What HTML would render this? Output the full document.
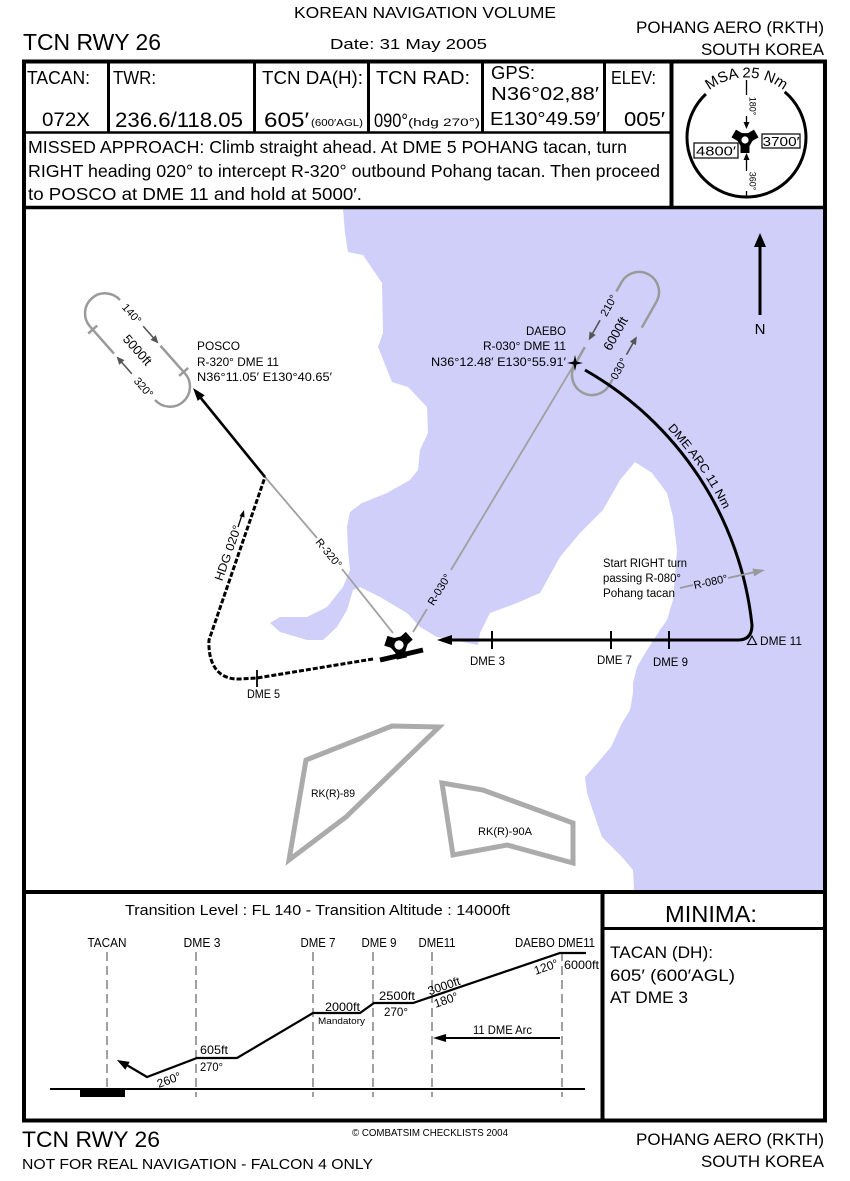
<!DOCTYPE html>
<html><head><meta charset="utf-8"><style>
html,body{margin:0;padding:0;background:#fff;}
svg{display:block;}
text{font-family:"Liberation Sans",sans-serif;fill:#000;}
</style></head><body>
<svg width="850" height="1181" viewBox="0 0 850 1181" xmlns="http://www.w3.org/2000/svg">
<defs>
<clipPath id="mapclip"><rect x="25" y="209" width="799" height="682"/></clipPath>
<path id="msaarc" d="M690.1,117 A60,60 0 0 1 802.9,117" fill="none"/>
<path id="dmearc" d="M589.5,366.4 A339,339 0 0 1 757.7,630.5" fill="none"/>
</defs>

<!-- Header titles -->
<text x="425" y="18" font-size="16" text-anchor="middle" textLength="262" lengthAdjust="spacingAndGlyphs">KOREAN NAVIGATION VOLUME</text>
<text x="23" y="50" font-size="23" textLength="138" lengthAdjust="spacingAndGlyphs">TCN RWY 26</text>
<text x="330" y="49" font-size="15" textLength="157" lengthAdjust="spacingAndGlyphs">Date: 31 May 2005</text>
<text x="824" y="33" font-size="17" text-anchor="end" textLength="188" lengthAdjust="spacingAndGlyphs">POHANG AERO (RKTH)</text>
<text x="824" y="55" font-size="17" text-anchor="end" textLength="123" lengthAdjust="spacingAndGlyphs">SOUTH KOREA</text>

<!-- Header cells -->
<text x="27" y="84" font-size="18" textLength="63" lengthAdjust="spacingAndGlyphs">TACAN:</text>
<text x="42" y="126" font-size="19" textLength="48" lengthAdjust="spacingAndGlyphs">072X</text>
<text x="113" y="84" font-size="18" textLength="43" lengthAdjust="spacingAndGlyphs">TWR:</text>
<text x="115" y="127" font-size="21" textLength="128" lengthAdjust="spacingAndGlyphs">236.6/118.05</text>
<text x="262" y="84" font-size="18" textLength="101" lengthAdjust="spacingAndGlyphs">TCN DA(H):</text>
<text x="264" y="127" font-size="21" textLength="45" lengthAdjust="spacingAndGlyphs">605′</text>
<text x="311" y="126" font-size="10" textLength="52" lengthAdjust="spacingAndGlyphs">(600′AGL)</text>
<text x="376" y="84" font-size="18" textLength="94" lengthAdjust="spacingAndGlyphs">TCN RAD:</text>
<text x="374" y="127" font-size="19" textLength="34" lengthAdjust="spacingAndGlyphs">090°</text>
<text x="408" y="126" font-size="11" textLength="72" lengthAdjust="spacingAndGlyphs">(hdg 270°)</text>
<text x="491" y="79" font-size="18" textLength="44" lengthAdjust="spacingAndGlyphs">GPS:</text>
<text x="491" y="100" font-size="18" textLength="108" lengthAdjust="spacingAndGlyphs">N36°02,88′</text>
<text x="490" y="125" font-size="18" textLength="110" lengthAdjust="spacingAndGlyphs">E130°49.59′</text>
<text x="611" y="84" font-size="18" textLength="45" lengthAdjust="spacingAndGlyphs">ELEV:</text>
<text x="624" y="126" font-size="20" textLength="41" lengthAdjust="spacingAndGlyphs">005′</text>

<!-- Missed approach -->
<text x="28" y="153" font-size="17.5" textLength="599" lengthAdjust="spacingAndGlyphs">MISSED APPROACH: Climb straight ahead. At DME 5 POHANG tacan, turn</text>
<text x="28" y="177" font-size="17.5" textLength="632" lengthAdjust="spacingAndGlyphs">RIGHT heading 020° to intercept R-320° outbound Pohang tacan. Then proceed</text>
<text x="28" y="200" font-size="17.5" textLength="334" lengthAdjust="spacingAndGlyphs">to POSCO at DME 11 and hold at 5000′.</text>

<!-- MSA -->
<path d="M784.7,91.9 A59.5,59.5 0 1 1 705.9,94" fill="none" stroke="#000" stroke-width="3"/>
<text font-size="15"><textPath href="#msaarc" startOffset="50%" text-anchor="middle">MSA 25 Nm</textPath></text>
<line x1="746.5" y1="80" x2="746.5" y2="95" stroke="#000" stroke-width="1.3"/>
<text transform="translate(749.5,106) rotate(90)" font-size="9" text-anchor="middle" fill="#555">180°</text>
<line x1="746.5" y1="116" x2="746.5" y2="124" stroke="#000" stroke-width="1.3"/>
<polygon points="746.5,129 743.5,122 749.5,122" fill="#000"/>
<line x1="746.5" y1="158" x2="746.5" y2="171" stroke="#000" stroke-width="1.3"/>
<polygon points="746.5,153 743.5,160 749.5,160" fill="#000"/>
<text transform="translate(749.5,181) rotate(90)" font-size="9" text-anchor="middle" fill="#555">360°</text>
<line x1="746.5" y1="191" x2="746.5" y2="197" stroke="#000" stroke-width="1.3"/>
<g transform="translate(745,140)">
<polygon points="8,0 4,6.9 -4,6.9 -8,0 -4,-6.9 4,-6.9" fill="#000"/>
<rect x="-4.5" y="5" width="9" height="8" fill="#000"/>
<rect x="-4.5" y="5" width="9" height="8" fill="#000" transform="rotate(120)"/>
<rect x="-4.5" y="5" width="9" height="8" fill="#000" transform="rotate(240)"/>
<circle r="3.6" fill="#fff"/>
</g>
<rect x="694" y="143" width="44" height="15" fill="#fff" stroke="#000" stroke-width="1.2"/>
<text x="716" y="155.5" font-size="13" text-anchor="middle" textLength="40" lengthAdjust="spacingAndGlyphs">4800′</text>
<rect x="762" y="134" width="38" height="14" fill="#fff" stroke="#000" stroke-width="1.2"/>
<text x="781" y="146" font-size="13" text-anchor="middle" textLength="37" lengthAdjust="spacingAndGlyphs">3700′</text>

<!-- MAP -->
<g clip-path="url(#mapclip)">
<polygon fill="#cfcff9" points="343,209 826,209 826,893 634,893 634,890 633,870 622,857 602,837 596,820 587,793 585,777 600,760 611,747 622,723 630,710 633,693 633,683 637,667 647,650 660,630 667,620 673,600 677,550 673,517 667,493 652,473 635,462 620,480 603,510 580,533 560,557 540,593 517,603 490,613 480,633 478,645 453,640 437,637 420,627 407,613 380,597 360,587 353,590 347,610 337,627 323,640 307,640 280,632 270,623 280,617 307,617 327,607 343,587 350,570 348,550 347,527 350,512 362,503 387,493 410,480 418,470 420,450 428,433 427,407 408,387 392,382 378,347 383,333 382,283 363,255 348,252 345,233"/>
</g>

<!-- Restricted areas -->
<polygon points="289,860 306,760 392,726 439,727 346,817" fill="none" stroke="#ababab" stroke-width="5" stroke-linejoin="miter"/>
<text x="311" y="797" font-size="11" fill="#777" textLength="44" lengthAdjust="spacingAndGlyphs">RK(R)-89</text>
<polygon points="442,783 483,790 573,823 573,863 507,845 453,855" fill="none" stroke="#ababab" stroke-width="5"/>
<text x="478" y="835" font-size="11" fill="#777" textLength="54" lengthAdjust="spacingAndGlyphs">RK(R)-90A</text>

<!-- R-320 gray radial -->
<line x1="393" y1="633" x2="342" y2="569" stroke="#a0a0a0" stroke-width="1.8"/>
<line x1="317" y1="538" x2="265" y2="477" stroke="#a0a0a0" stroke-width="1.8"/>
<text transform="translate(329,553) rotate(50.6)" font-size="11" fill="#aaa" text-anchor="middle" dy="4">R-320°</text>

<!-- R-030 gray radial -->
<line x1="413" y1="632" x2="427" y2="609" stroke="#a0a0a0" stroke-width="1.8"/>
<line x1="451" y1="570" x2="575" y2="363" stroke="#a0a0a0" stroke-width="1.8"/>
<text transform="translate(439,589.5) rotate(-58.5)" font-size="11" fill="#aaa" text-anchor="middle" dy="4">R-030°</text>

<!-- Missed approach path -->
<path d="M373,659 L257,678 L240,679 C215,680 208,660 209,640 L265,477" fill="none" stroke="#000" stroke-width="3" stroke-dasharray="5 2"/>
<line x1="257" y1="670" x2="257" y2="687" stroke="#000" stroke-width="1.8"/>
<text x="247" y="698" font-size="12" textLength="33" lengthAdjust="spacingAndGlyphs">DME 5</text>
<text transform="translate(228,553) rotate(-70.5)" font-size="12" text-anchor="middle" dy="4" textLength="58" lengthAdjust="spacingAndGlyphs">HDG 020°</text>
<line x1="238" y1="527" x2="242" y2="515" stroke="#000" stroke-width="1.3"/>
<polygon points="244,510 239.5,516 244.5,517.5" fill="#000"/>

<!-- Line to POSCO -->
<line x1="265" y1="477" x2="200" y2="397" stroke="#000" stroke-width="2.6"/>
<polygon points="193,388 204.7,395.3 197.7,400.9" fill="#000"/>

<!-- POSCO hold -->
<g transform="translate(137.5,350) rotate(-41.5)">
<g fill="none" stroke="#9a9a9a" stroke-width="2.5">
<path d="M-20,-49 A20,20 0 0 1 20,-49"/>
<path d="M20,49 A20,20 0 0 1 -20,49"/>
<line x1="20" y1="12" x2="20" y2="49"/>
<line x1="-20" y1="-49" x2="-20" y2="-13"/>
<line x1="-26" y1="-45" x2="-14" y2="-45"/>
<line x1="14" y1="47" x2="26" y2="47"/>
</g>
<line x1="20" y1="-14" x2="20" y2="3" stroke="#555" stroke-width="1.6"/>
<polygon points="20,9 16.5,1 23.5,1" fill="#555"/>
<line x1="-20" y1="14" x2="-20" y2="-3" stroke="#555" stroke-width="1.6"/>
<polygon points="-20,-9 -23.5,-1 -16.5,-1" fill="#555"/>
<text transform="translate(20,-31) rotate(90)" font-size="11" fill="#888" text-anchor="middle" dy="4">140°</text>
<text transform="translate(-20,32) rotate(90)" font-size="11" fill="#888" text-anchor="middle" dy="4">320°</text>
<text transform="translate(0,0) rotate(90)" font-size="13" fill="#666" text-anchor="middle" dy="4.5">5000ft</text>
</g>
<text x="197" y="350" font-size="12" textLength="43" lengthAdjust="spacingAndGlyphs">POSCO</text>
<text x="197" y="366" font-size="12" textLength="82" lengthAdjust="spacingAndGlyphs">R-320° DME 11</text>
<text x="197" y="381" font-size="12" textLength="135" lengthAdjust="spacingAndGlyphs">N36°11.05′ E130°40.65′</text>

<!-- DAEBO hold -->
<g transform="translate(615.5,333.5) rotate(29.5)">
<g fill="none" stroke="#9a9a9a" stroke-width="2.5">
<path d="M-20,-47.7 A20,20 0 0 1 20,-47.7"/>
<path d="M20,47.7 A20,20 0 0 1 -20,47.7"/>
<line x1="-20" y1="-47.7" x2="-20" y2="-37"/>
<line x1="-20" y1="27" x2="-20" y2="47.7"/>
<line x1="20" y1="-47.7" x2="20" y2="-18"/>
<line x1="20" y1="41" x2="20" y2="47.7"/>
</g>
<line x1="-20" y1="-4" x2="-20" y2="13" stroke="#555" stroke-width="1.6"/>
<polygon points="-20,19 -23.5,11 -16.5,11" fill="#555"/>
<line x1="20" y1="13" x2="20" y2="-2" stroke="#555" stroke-width="1.6"/>
<polygon points="20,-8 16.5,0 23.5,0" fill="#555"/>
<text transform="translate(-20,-21) rotate(-90)" font-size="11" fill="#888" text-anchor="middle" dy="4">210°</text>
<text transform="translate(20,29) rotate(-90)" font-size="11" fill="#888" text-anchor="middle" dy="4">030°</text>
<text transform="translate(0,0) rotate(-90)" font-size="13" fill="#666" text-anchor="middle" dy="4.5">6000ft</text>
</g>
<path d="M575,355 L576.5,361.5 L583,363 L576.5,364.5 L575,371 L573.5,364.5 L567,363 L573.5,361.5 Z" fill="#000"/>
<text x="566" y="335" font-size="12" text-anchor="end" textLength="40" lengthAdjust="spacingAndGlyphs">DAEBO</text>
<text x="566" y="350" font-size="12" text-anchor="end" textLength="83" lengthAdjust="spacingAndGlyphs">R-030° DME 11</text>
<text x="566" y="366" font-size="12" text-anchor="end" textLength="135" lengthAdjust="spacingAndGlyphs">N36°12.48′ E130°55.91′</text>

<!-- DME arc and inbound -->
<path d="M585,370 A334,334 0 0 1 752,625 Q752,640 738,640 L450,640" fill="none" stroke="#000" stroke-width="3"/>
<polygon points="437,640 452,635 452,645" fill="#000"/>
<text font-size="12"><textPath href="#dmearc" startOffset="100" textLength="99" lengthAdjust="spacingAndGlyphs">DME ARC 11 Nm</textPath></text>
<line x1="492" y1="631" x2="492" y2="649" stroke="#000" stroke-width="2"/>
<line x1="611" y1="631" x2="611" y2="649" stroke="#000" stroke-width="2"/>
<line x1="669" y1="631" x2="669" y2="649" stroke="#000" stroke-width="2"/>
<text x="470" y="665" font-size="12" textLength="35" lengthAdjust="spacingAndGlyphs">DME 3</text>
<text x="597" y="664" font-size="12" textLength="35" lengthAdjust="spacingAndGlyphs">DME 7</text>
<text x="653" y="666" font-size="12" textLength="35" lengthAdjust="spacingAndGlyphs">DME 9</text>
<polygon points="752,636 747.5,644.5 756.5,644.5" fill="none" stroke="#000" stroke-width="1.1"/>
<text x="760" y="645" font-size="12" textLength="42" lengthAdjust="spacingAndGlyphs">DME 11</text>

<!-- R-080 -->
<text x="603" y="567" font-size="11.5" textLength="84" lengthAdjust="spacingAndGlyphs">Start RIGHT turn</text>
<text x="603" y="582" font-size="11.5" textLength="78" lengthAdjust="spacingAndGlyphs">passing R-080°</text>
<text x="603" y="597" font-size="11.5" textLength="72" lengthAdjust="spacingAndGlyphs">Pohang tacan</text>
<line x1="680" y1="588" x2="693" y2="585" stroke="#999" stroke-width="1.8"/>
<text transform="translate(710.5,581.5) rotate(-12)" font-size="11" fill="#aaa" text-anchor="middle" dy="4">R-080°</text>
<line x1="728" y1="578" x2="755" y2="572" stroke="#999" stroke-width="1.8"/>
<polygon points="765,570 754.1,576.4 752.5,568.6" fill="#999"/>

<!-- North arrow -->
<line x1="760" y1="315" x2="760" y2="244" stroke="#000" stroke-width="3"/>
<polygon points="760,233 754,247 766,247" fill="#000"/>
<text x="760" y="334" font-size="15" text-anchor="middle">N</text>

<!-- TACAN symbol and runway -->
<g transform="translate(399,645) rotate(-12) scale(1.15)">
<polygon points="8,0 4,6.9 -4,6.9 -8,0 -4,-6.9 4,-6.9" fill="#000"/>
<rect x="-4.5" y="5" width="9" height="7" fill="#000"/>
<rect x="-4.5" y="5" width="9" height="7" fill="#000" transform="rotate(120)"/>
<rect x="-4.5" y="5" width="9" height="7" fill="#000" transform="rotate(240)"/>
<circle r="4" fill="#fff"/>
</g>
<line x1="380" y1="660" x2="423" y2="650" stroke="#000" stroke-width="5"/>

<!-- PROFILE -->
<text x="125" y="915" font-size="15" textLength="385" lengthAdjust="spacingAndGlyphs">Transition Level : FL 140  -  Transition Altitude : 14000ft</text>
<g stroke="#a0a0a0" stroke-width="2" stroke-dasharray="9 5">
<line x1="107" y1="952" x2="107" y2="1097"/>
<line x1="196" y1="952" x2="196" y2="1097"/>
<line x1="313" y1="952" x2="313" y2="1097"/>
<line x1="373" y1="952" x2="373" y2="1097"/>
<line x1="432" y1="952" x2="432" y2="1097"/>
<line x1="562" y1="952" x2="562" y2="1097"/>
</g>
<text x="107" y="947" font-size="13" text-anchor="middle" textLength="39" lengthAdjust="spacingAndGlyphs">TACAN</text>
<text x="202" y="947" font-size="13" text-anchor="middle" textLength="37" lengthAdjust="spacingAndGlyphs">DME 3</text>
<text x="318" y="947" font-size="13" text-anchor="middle" textLength="35" lengthAdjust="spacingAndGlyphs">DME 7</text>
<text x="379" y="947" font-size="13" text-anchor="middle" textLength="35" lengthAdjust="spacingAndGlyphs">DME 9</text>
<text x="437" y="947" font-size="13" text-anchor="middle" textLength="37" lengthAdjust="spacingAndGlyphs">DME11</text>
<text x="555" y="947" font-size="13" text-anchor="middle" textLength="80" lengthAdjust="spacingAndGlyphs">DAEBO DME11</text>
<line x1="50" y1="1089" x2="585" y2="1089" stroke="#000" stroke-width="2"/>
<rect x="80" y="1089" width="45" height="8" fill="#000"/>
<polyline points="125,1064 147,1077 197,1058 237,1058 313,1013 360,1013 374,1003 413,1003 560,953 586,953" fill="none" stroke="#000" stroke-width="2.2"/>
<polygon points="117,1060 129.7,1061.9 125.3,1069.7" fill="#000"/>
<text transform="translate(169,1080) rotate(-20)" font-size="12" text-anchor="middle" dy="4">260°</text>
<text x="200" y="1054" font-size="12" textLength="28" lengthAdjust="spacingAndGlyphs">605ft</text>
<text x="200" y="1071" font-size="12" textLength="23" lengthAdjust="spacingAndGlyphs">270°</text>
<text x="325" y="1011" font-size="12" textLength="35" lengthAdjust="spacingAndGlyphs">2000ft</text>
<text x="318" y="1024" font-size="9" textLength="47" lengthAdjust="spacingAndGlyphs">Mandatory</text>
<text x="379" y="1000" font-size="12" textLength="36" lengthAdjust="spacingAndGlyphs">2500ft</text>
<text x="384" y="1016" font-size="12" textLength="24" lengthAdjust="spacingAndGlyphs">270°</text>
<text transform="translate(444,986) rotate(-19)" font-size="12" text-anchor="middle" dy="4">3000ft</text>
<text transform="translate(446,1000) rotate(-19)" font-size="12" text-anchor="middle" dy="4">180°</text>
<text transform="translate(546,967) rotate(-19)" font-size="12" text-anchor="middle" dy="4">120°</text>
<text x="564" y="969" font-size="12" textLength="35" lengthAdjust="spacingAndGlyphs">6000ft</text>
<text x="473" y="1034" font-size="12" textLength="59" lengthAdjust="spacingAndGlyphs">11 DME Arc</text>
<line x1="560" y1="1038" x2="444" y2="1038" stroke="#000" stroke-width="2"/>
<polygon points="433,1038 446,1034 446,1042" fill="#000"/>

<!-- MINIMA -->
<text x="711" y="922" font-size="23" text-anchor="middle" textLength="92" lengthAdjust="spacingAndGlyphs">MINIMA:</text>
<text x="610" y="958" font-size="17" textLength="103" lengthAdjust="spacingAndGlyphs">TACAN (DH):</text>
<text x="610" y="981" font-size="17" textLength="125" lengthAdjust="spacingAndGlyphs">605′ (600′AGL)</text>
<text x="610" y="1003" font-size="17" textLength="78" lengthAdjust="spacingAndGlyphs">AT DME 3</text>

<!-- Frame lines -->
<g stroke="#000" fill="none">
<line x1="22" y1="61.5" x2="827" y2="61.5" stroke-width="4"/>
<line x1="24" y1="60" x2="24" y2="1122" stroke-width="4"/>
<line x1="825" y1="60" x2="825" y2="1122" stroke-width="4"/>
<line x1="22" y1="1120.5" x2="827" y2="1120.5" stroke-width="4"/>
<line x1="24" y1="132.5" x2="671" y2="132.5" stroke-width="2.5"/>
<line x1="24" y1="207.5" x2="825" y2="207.5" stroke-width="3.5"/>
<line x1="108.5" y1="61" x2="108.5" y2="132.5" stroke-width="3"/>
<line x1="254.5" y1="61" x2="254.5" y2="132.5" stroke-width="3"/>
<line x1="368.5" y1="61" x2="368.5" y2="132.5" stroke-width="3"/>
<line x1="482.5" y1="61" x2="482.5" y2="132.5" stroke-width="3"/>
<line x1="604.5" y1="61" x2="604.5" y2="132.5" stroke-width="3"/>
<line x1="671.5" y1="61" x2="671.5" y2="208" stroke-width="4"/>
<line x1="24" y1="892" x2="825" y2="892" stroke-width="4"/>
<line x1="602.5" y1="892" x2="602.5" y2="1121" stroke-width="4"/>
<line x1="602" y1="928.5" x2="825" y2="928.5" stroke-width="3"/>
</g>

<!-- Footer -->
<text x="22" y="1147" font-size="22" textLength="138" lengthAdjust="spacingAndGlyphs">TCN RWY 26</text>
<text x="22" y="1169" font-size="15" textLength="351" lengthAdjust="spacingAndGlyphs">NOT FOR REAL NAVIGATION - FALCON 4 ONLY</text>
<text x="352" y="1136" font-size="10" textLength="156" lengthAdjust="spacingAndGlyphs">© COMBATSIM CHECKLISTS 2004</text>
<text x="824" y="1145" font-size="17" text-anchor="end" textLength="188" lengthAdjust="spacingAndGlyphs">POHANG AERO (RKTH)</text>
<text x="824" y="1167" font-size="17" text-anchor="end" textLength="123" lengthAdjust="spacingAndGlyphs">SOUTH KOREA</text>
</svg>
</body></html>
